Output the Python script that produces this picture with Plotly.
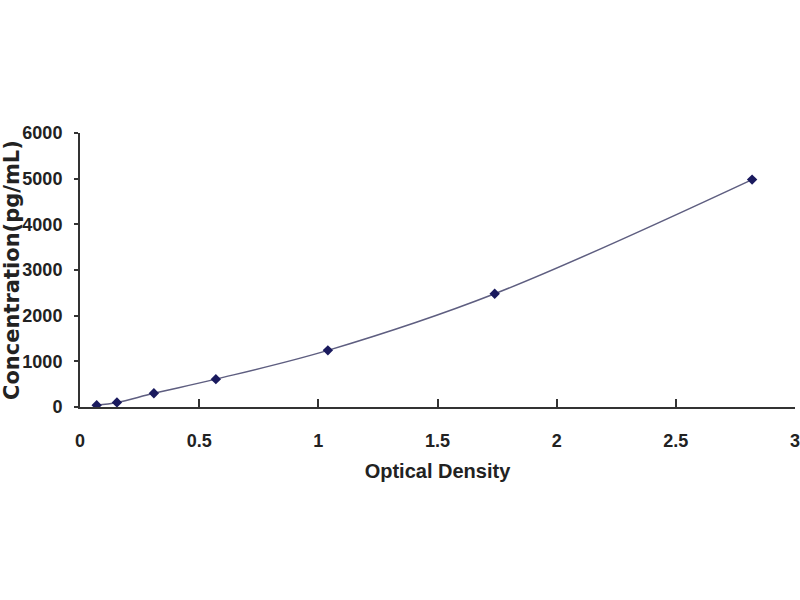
import plotly.graph_objects as go

# standard curve
optical_density = [0.07, 0.155, 0.31, 0.57, 1.04, 1.74, 2.82]
concentration = [40, 100, 300, 610, 1240, 2480, 4980]

x_ticks = [0, 0.5, 1, 1.5, 2, 2.5, 3]
x_labels = ['0', '0.5', '1', '1.5', '2', '2.5', '3']
y_ticks = [0, 1000, 2000, 3000, 4000, 5000, 6000]

tick_font = dict(family='Liberation Sans, Arial', size=18, color='#222222', weight='bold')
x_title_font = dict(family='Liberation Sans, Arial', size=20, color='#222222', weight='bold')
y_title_font = dict(family='DejaVu Sans', size=21, color='#222222', weight='bold')

fig = go.Figure()
fig.add_trace(go.Scatter(
    x=optical_density, y=concentration,
    mode='lines+markers',
    line=dict(color='#5e5e80', width=1.5, shape='spline'),
    marker=dict(symbol='diamond', size=8, color='#1a1a5e'),
    showlegend=False,
))

fig.update_layout(
    width=800, height=600,
    paper_bgcolor='white', plot_bgcolor='white',
    margin=dict(l=80, r=5, t=133, b=193),
)
fig.update_xaxes(
    range=[0, 3], tickvals=x_ticks, ticktext=x_labels,
    showgrid=False, zeroline=False, automargin=False,
    showline=True, linecolor='#333333', linewidth=2,
    ticks='inside', ticklen=8, tickwidth=1.5, tickcolor='#333333',
    ticklabelstandoff=16, ticklabeloverflow='allow',
    tickfont=tick_font,
    title=dict(text='Optical Density', font=x_title_font, standoff=14),
)
fig.update_yaxes(
    range=[0, 6000], tickvals=y_ticks,
    showgrid=False, zeroline=False, automargin=False,
    showline=True, linecolor='#333333', linewidth=2,
    ticks='outside', ticklen=4, tickwidth=1.5, tickcolor='#333333',
    ticklabelstandoff=8,
    tickfont=tick_font,
)

# y title as an annotation so it sits close to the left edge
fig.add_annotation(
    text='Concentration(pg/mL)', textangle=-90,
    xref='paper', yref='paper', x=0, y=0.5,
    xanchor='center', yanchor='middle', xshift=-68,
    showarrow=False, font=y_title_font,
)

# drop the default 8px body margin so the figure fills the window
fig.write_html("out.html", config={'displayModeBar': False},
               post_script="document.body.style.margin = '0';")
